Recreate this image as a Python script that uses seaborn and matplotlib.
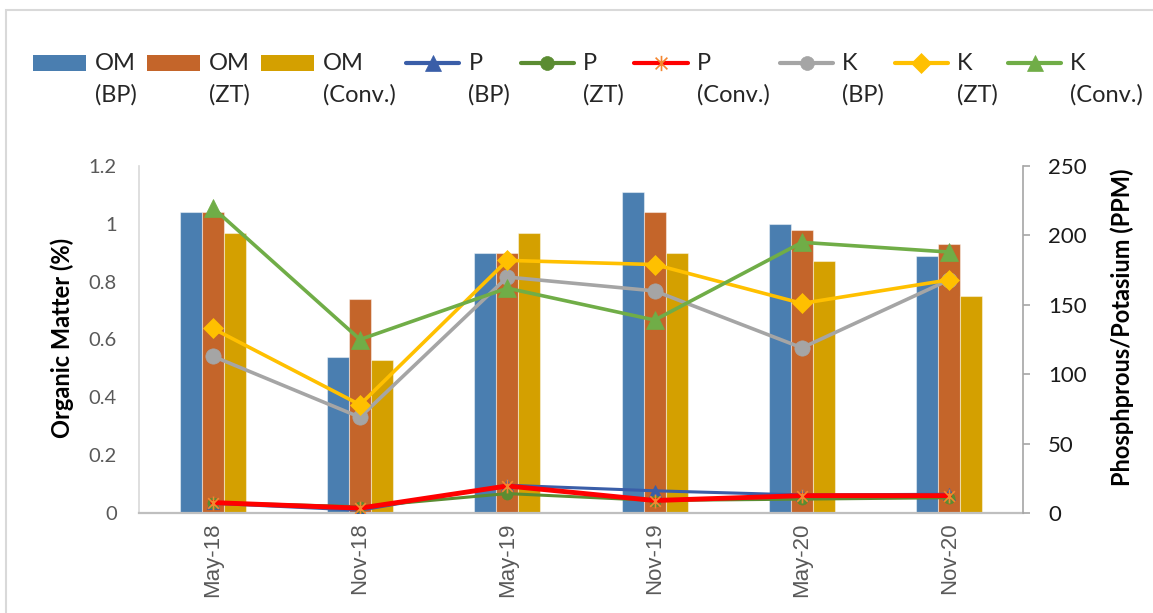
import numpy as np
import pandas as pd
import matplotlib
matplotlib.use("Agg")
import matplotlib.pyplot as plt
from matplotlib.patches import Patch, Rectangle
from matplotlib.lines import Line2D
from matplotlib.path import Path
from matplotlib.legend_handler import HandlerPatch, HandlerLine2D
from matplotlib.ticker import FuncFormatter
import seaborn as sns

# ---- data -------------------------------------------------------------
dates = ["May-18", "Nov-18", "May-19", "Nov-19", "May-20", "Nov-20"]
treatments = ["BP", "ZT", "Conv."]

om_bp = [1.04, 0.54, 0.90, 1.11, 1.00, 0.89]
om_zt = [1.04, 0.74, 0.90, 1.04, 0.98, 0.93]
om_conv = [0.97, 0.53, 0.97, 0.90, 0.87, 0.75]

p_bp = [7, 2, 20, 16, 13, 13.5]
p_zt = [7.5, 4.5, 14, 9, 10, 11]
p_conv = [7.5, 3.5, 19.5, 9, 12.5, 12.5]

k_bp = [113, 69, 170, 160, 119, 168]
k_zt = [133, 78, 182, 179, 151, 168]
k_conv = [220, 125, 162, 139, 195, 188]

om_ticks = [0, 0.2, 0.4, 0.6, 0.8, 1.0, 1.2]
ppm_ticks = [0, 50, 100, 150, 200, 250]

# ---- style ------------------------------------------------------------
sns.set_style("white")
plt.rcParams["font.family"] = ["Lato", "DejaVu Sans"]

om_colors = ["#4A7EB0", "#C4652A", "#D4A000"]

# asterisk-like marker: an x with a vertical stroke
star_path = Path(
    [(-1, -1), (1, 1), (-1, 1), (1, -1), (0, -1.3), (0, 1.3)],
    [Path.MOVETO, Path.LINETO, Path.MOVETO, Path.LINETO, Path.MOVETO, Path.LINETO],
)

line_styles = [
    dict(name="P", sub="BP", y=p_bp, color="#3A5EA8", lw=2.2, marker="^", ms=8,
         mfc="#3A5EA8", mec="#3A5EA8", mew=0.5, lms=11),
    dict(name="P", sub="ZT", y=p_zt, color="#5B8C32", lw=2.2, marker="o", ms=8,
         mfc="#5B8C32", mec="#5B8C32", mew=0.5, lms=10),
    dict(name="P", sub="Conv.", y=p_conv, color="#FF0000", lw=3.5, marker=star_path, ms=10,
         mfc="none", mec="#F4862F", mew=1.2, lms=11),
    dict(name="K", sub="BP", y=k_bp, color="#A5A5A5", lw=2.6, marker="o", ms=11,
         mfc="#A5A5A5", mec="#A5A5A5", mew=0.5, lms=10),
    dict(name="K", sub="ZT", y=k_zt, color="#FFC000", lw=2.6, marker="D", ms=10,
         mfc="#FFC000", mec="#FFC000", mew=0.5, lms=10),
    dict(name="K", sub="Conv.", y=k_conv, color="#70AD47", lw=2.6, marker="^", ms=13,
         mfc="#70AD47", mec="#70AD47", mew=0.5, lms=12),
]


class TopLine(HandlerLine2D):
    """Line handle raised to sit beside the first line of a two-line label."""

    def __init__(self, shift, **kw):
        super().__init__(**kw)
        self.shift = shift

    def create_artists(self, legend, orig_handle, xdescent, ydescent, width,
                       height, fontsize, trans):
        arts = super().create_artists(legend, orig_handle, xdescent, ydescent,
                                      width, height, fontsize, trans)
        for a in arts:
            a.set_ydata(np.asarray(a.get_ydata()) + self.shift * fontsize)
        return arts


class TopPatch(HandlerPatch):
    """Patch handle raised to sit beside the first line of a two-line label."""

    def __init__(self, shift, **kw):
        super().__init__(**kw)
        self.shift = shift

    def create_artists(self, legend, orig_handle, xdescent, ydescent, width,
                       height, fontsize, trans):
        arts = super().create_artists(legend, orig_handle, xdescent, ydescent,
                                      width, height, fontsize, trans)
        for a in arts:
            a.set_y(a.get_y() + self.shift * fontsize)
        return arts


W, H = 1153, 613
fig = plt.figure(figsize=(W / 100, H / 100), dpi=100)
ax = fig.add_axes([139 / W, (H - 513) / H, 884 / W, 347 / H])

# ---- organic matter bars (left axis) ----------------------------------
df_om = pd.DataFrame({
    "date": dates * 3,
    "treatment": [t for t in treatments for _ in dates],
    "om": om_bp + om_zt + om_conv,
})
sns.barplot(data=df_om, x="date", y="om", hue="treatment", order=dates,
            hue_order=treatments, palette=om_colors, saturation=1, width=0.45,
            errorbar=None, edgecolor=(1, 1, 1, 0.45), linewidth=0.8,
            legend=False, ax=ax)
ax.set_xlim(-0.5, len(dates) - 0.5)
ax.set_ylim(0, 1.2)
ax.set_yticks(om_ticks)
ax.yaxis.set_major_formatter(FuncFormatter(lambda v, p: f"{round(v, 1):g}"))
ax.set_xlabel("")
ax.set_ylabel("Organic Matter (%)", fontsize=17, fontweight="bold", color="black")
ax.yaxis.set_label_coords(-0.0866, 0.505)
ax.yaxis.label.set_va("center")

for s in ["top", "right"]:
    ax.spines[s].set_visible(False)
ax.spines["left"].set_color("#d9d9d9")
ax.spines["left"].set_linewidth(1.2)
ax.spines["bottom"].set_color("#bfbfbf")
ax.spines["bottom"].set_linewidth(1.6)
ax.tick_params(axis="y", length=0, pad=16, labelsize=14.5, labelcolor="#595959")
ax.tick_params(axis="x", length=0, pad=7, labelsize=16, labelrotation=90,
               labelcolor="#595959")
for lab in ax.get_xticklabels():
    lab.set_fontfamily("Liberation Sans")

# ---- phosphorus / potassium lines (right axis) ------------------------
ax2 = ax.twinx()
x_pos = np.arange(len(dates))
for st in line_styles:
    sns.lineplot(x=x_pos, y=st["y"], ax=ax2, color=st["color"], linewidth=st["lw"],
                 marker=st["marker"], markersize=st["ms"], markerfacecolor=st["mfc"],
                 markeredgecolor=st["mec"], markeredgewidth=st["mew"], legend=False,
                 solid_capstyle="round", solid_joinstyle="round")
ax2.set_ylim(0, 250)
ax2.set_yticks(ppm_ticks)
ax2.set_ylabel("Phosphprous/Potasium (PPM)", fontsize=17, fontweight="bold",
               color="black")
ax2.yaxis.set_label_coords(1.112, 0.5346)
ax2.yaxis.label.set_va("center")
for s in ["top", "left", "bottom"]:
    ax2.spines[s].set_visible(False)
ax2.spines["right"].set_color("#a6a6a6")
ax2.spines["right"].set_linewidth(1.2)
ax2.tick_params(axis="y", length=5, width=1.2, color="#a6a6a6", pad=13,
                labelsize=16, labelcolor="#1a1a1a")

# ---- legend -----------------------------------------------------------
handles, labels = [], []
for c, t in zip(om_colors, treatments):
    handles.append(Patch(facecolor=c, edgecolor="none"))
    labels.append(f"OM\n({t})")
for st in line_styles:
    handles.append(Line2D([], [], color=st["color"], lw=3, marker=st["marker"],
                          markersize=st["lms"], markerfacecolor=st["mfc"],
                          markeredgecolor=st["mec"], markeredgewidth=st["mew"],
                          solid_capstyle="round"))
    labels.append(f"{st['name']}\n({st['sub']})")

leg = fig.legend(handles, labels, loc="upper left",
                 bbox_to_anchor=(32.5 / W, 1 - 53 / H), ncol=9, frameon=False,
                 fontsize=17, handlelength=2.25, handleheight=0.64,
                 handletextpad=0.38, columnspacing=0.45, borderpad=0,
                 borderaxespad=0,
                 handler_map={Patch: TopPatch(0.7), Line2D: TopLine(0.7)})
for t in leg.get_texts():
    t.set_linespacing(1.6)

# chart area outline
fig.add_artist(Rectangle((5.5 / W, -0.05), 1.2, 1.05 - 9.5 / H,
                         transform=fig.transFigure, fill=False,
                         edgecolor="#d9d9d9", linewidth=1.5))

fig.savefig("out.png", dpi=100)
